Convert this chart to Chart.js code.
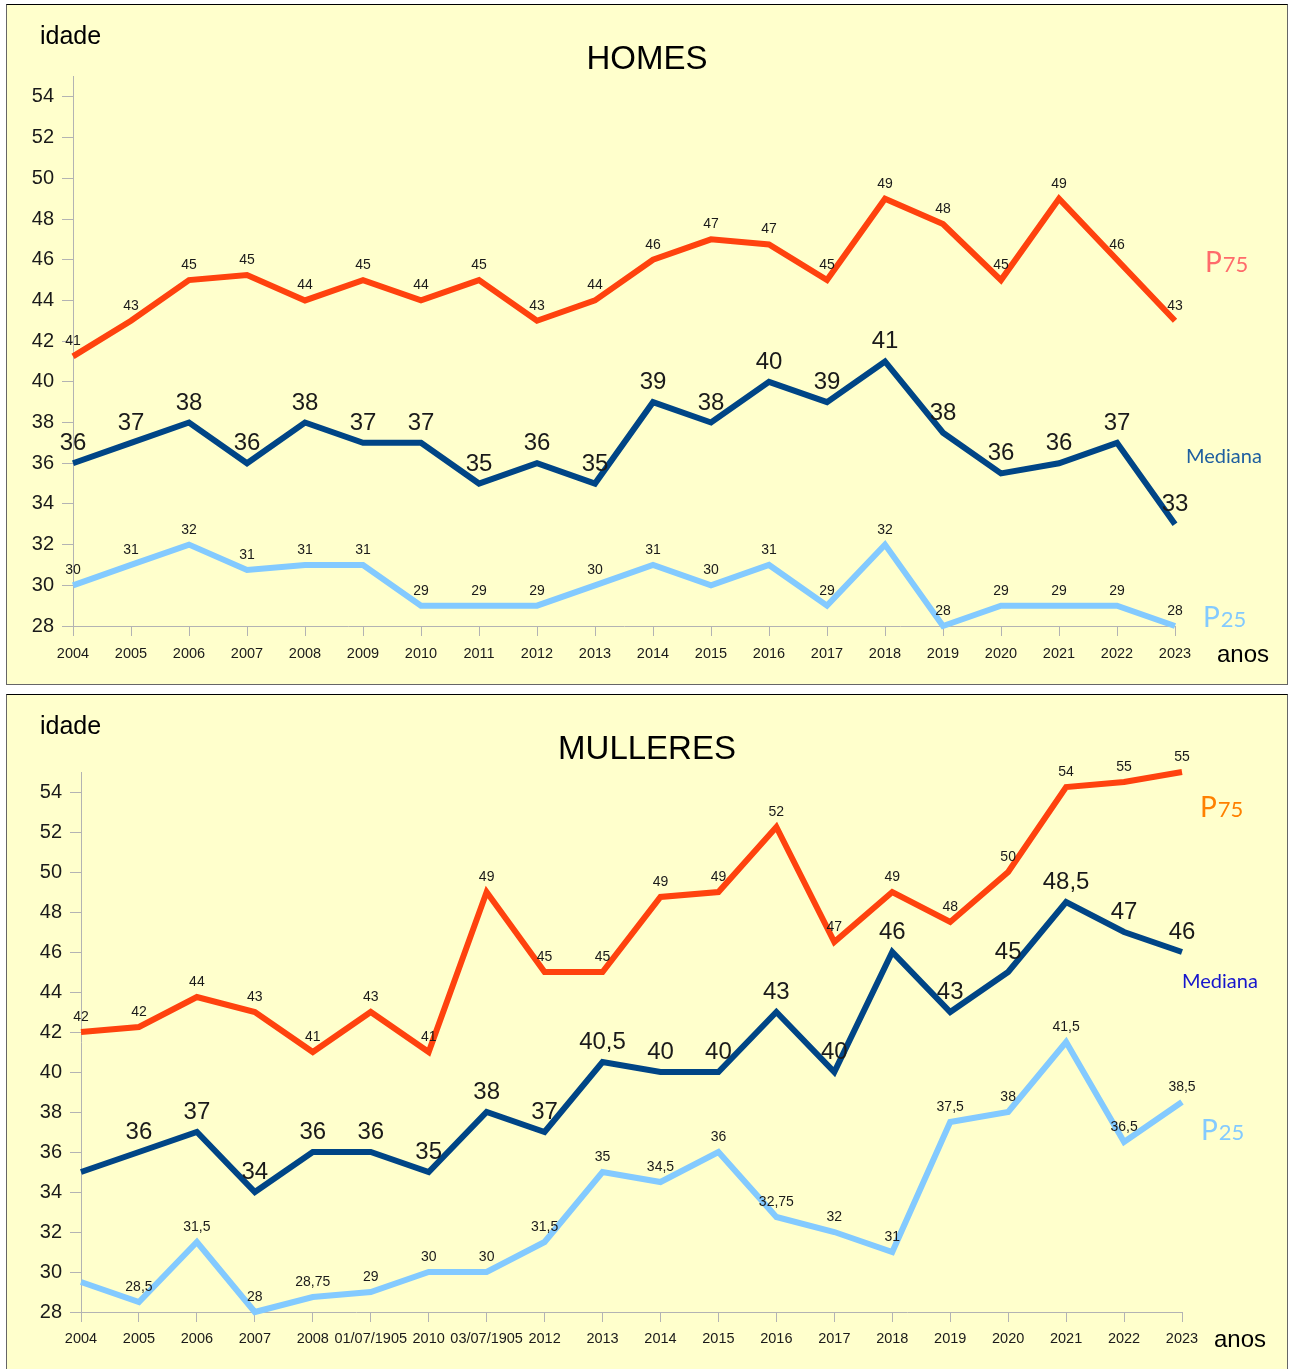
<!DOCTYPE html>
<html>
<head>
<meta charset="utf-8">
<script src="https://cdn.jsdelivr.net/npm/chart.js@4"></script>
<style>
  body { margin: 0; background: #fff; }
  .panel {
    position: absolute;
    left: 6px;
    width: 1282px;
    box-sizing: border-box;
    background: #ffffcc;
    border: 1px solid #666;
    border-top-color: #000;
  }
  #panelTop { top: 4px; height: 681px; }
  #panelBot { top: 694px; height: 676px; }
  canvas { display: block; }
</style>
</head>
<body>
<div class="panel" id="panelTop"><canvas id="homesChart" width="1280" height="679"></canvas></div>
<div class="panel" id="panelBot"><canvas id="mulleresChart" width="1280" height="674"></canvas></div>
<script>
const years = ["2004", "2005", "2006", "2007", "2008", "2009", "2010", "2011", "2012", "2013",
  "2014", "2015", "2016", "2017", "2018", "2019", "2020", "2021", "2022", "2023"];
const yearsMulleres = ["2004", "2005", "2006", "2007", "2008", "01/07/1905", "2010", "03/07/1905", "2012", "2013",
  "2014", "2015", "2016", "2017", "2018", "2019", "2020", "2021", "2022", "2023"];

const homesP75 = [41.25, 43, 45, 45.25, 44, 45, 44, 45, 43, 44, 46, 47, 46.75, 45, 49, 47.75, 45, 49, 46, 43];
const homesMediana = [36, 37, 38, 36, 38, 37, 37, 35, 36, 35, 39, 38, 40, 39, 41, 37.5, 35.5, 36, 37, 33];
const homesP25 = [30, 31, 32, 30.75, 31, 31, 29, 29, 29, 30, 31, 30, 31, 29, 32, 28, 29, 29, 29, 28];

const mulleresP75 = [42, 42.25, 43.75, 43, 41, 43, 41, 49, 45, 45, 48.75, 49, 52.25, 46.5, 49, 47.5, 50, 54.25, 54.5, 55];
const mulleresMediana = [35, 36, 37, 34, 36, 36, 35, 38, 37, 40.5, 40, 40, 43, 40, 46, 43, 45, 48.5, 47, 46];
const mulleresP25 = [29.5, 28.5, 31.5, 28, 28.75, 29, 30, 30, 31.5, 35, 34.5, 36, 32.75, 32, 31, 37.5, 38, 41.5, 36.5, 38.5];

const P75_COLOR = "#ff420e";
const MEDIANA_COLOR = "#004586";
const P25_COLOR = "#83caff";
const AXIS_COLOR = "#b3b3b3";

Chart.defaults.font.family = "'Liberation Sans', Arial, sans-serif";
Chart.defaults.color = "#1a1a1a";

function formatValue(v, rounded) {
  if (rounded) return String(Math.round(v));
  return String(v).replace(".", ",");
}

// draws the value over each point
const valueLabels = {
  id: "valueLabels",
  afterDatasetsDraw(chart) {
    const ctx = chart.ctx;
    ctx.save();
    ctx.textAlign = "center";
    ctx.textBaseline = "alphabetic";
    ctx.fillStyle = "#1a1a1a";
    chart.data.datasets.forEach((ds, i) => {
      const meta = chart.getDatasetMeta(i);
      ctx.font = ds.labelSize + "px 'Liberation Sans', Arial, sans-serif";
      meta.data.forEach((pt, j) => {
        if (ds.hideLabelAt && ds.hideLabelAt.includes(j)) return;
        ctx.fillText(formatValue(ds.data[j], ds.rounded), pt.x, pt.y - ds.labelOffset);
      });
    });
    ctx.restore();
  },
};

// title, axis names and series names
function overlay(texts) {
  return {
    id: "overlay",
    afterDraw(chart) {
      const ctx = chart.ctx;
      ctx.save();
      ctx.textBaseline = "alphabetic";
      texts.forEach((t) => {
        ctx.fillStyle = t.color || "#000";
        ctx.textAlign = t.align || "left";
        if (t.sub) {
          ctx.font = t.size + "px Lato, 'Open Sans', sans-serif";
          ctx.textAlign = "left";
          ctx.fillText("P", t.x, t.y);
          const w = ctx.measureText("P").width;
          ctx.font = Math.round(t.size * 0.8) + "px Lato, 'Open Sans', sans-serif";
          ctx.fillText(t.sub, t.x + w + 1, t.y);
        } else {
          ctx.font = t.size + "px " + (t.family || "'Liberation Sans', Arial, sans-serif");
          ctx.fillText(t.text, t.x, t.y);
        }
      });
      ctx.restore();
    },
  };
}

function lineSet(label, data, color, big, rounded) {
  return {
    label: label,
    data: data,
    borderColor: color,
    backgroundColor: color,
    borderWidth: 6,
    pointRadius: 0,
    tension: 0,
    clip: false,
    labelSize: big ? 24 : 14,
    labelOffset: big ? 13 : 11,
    rounded: rounded,
  };
}

function makeOptions(yWidth, xHeight, padding, xPad) {
  return {
    responsive: false,
    devicePixelRatio: 1,
    animation: false,
    layout: { padding: padding },
    plugins: {
      legend: { display: false },
      title: { display: false },
      tooltip: { enabled: false },
    },
    scales: {
      x: {
        grid: { display: true, drawOnChartArea: false, drawTicks: true, tickLength: 10, color: AXIS_COLOR },
        border: { display: true, color: AXIS_COLOR, width: 1 },
        ticks: { autoSkip: false, maxRotation: 0, minRotation: 0, padding: xPad, font: { size: 14.5 }, color: "#1a1a1a" },
        afterFit: (s) => { s.height = xHeight; },
      },
      y: {
        min: 28,
        max: 55,
        grid: { display: true, drawOnChartArea: false, drawTicks: true, tickLength: 11, color: AXIS_COLOR },
        border: { display: true, color: AXIS_COLOR, width: 1 },
        ticks: { stepSize: 2, includeBounds: false, padding: 8, font: { size: 20 }, color: "#1a1a1a" },
        afterFit: (s) => { s.width = yWidth; },
      },
    },
  };
}

const homesChart = new Chart(document.getElementById("homesChart"), {
  type: "line",
  data: {
    labels: years,
    datasets: [
      lineSet("P75", homesP75, P75_COLOR, false, true),
      lineSet("Mediana", homesMediana, MEDIANA_COLOR, true, true),
      lineSet("P25", homesP25, P25_COLOR, false, true),
    ],
  },
  options: makeOptions(66, 58, { left: 0, right: 112, top: 71.6, bottom: 0 }, 9),
  plugins: [
    valueLabels,
    overlay([
      { text: "idade", x: 33, y: 39, size: 25 },
      { text: "HOMES", x: 640, y: 64, size: 33, align: "center" },
      { text: "anos", x: 1210, y: 657, size: 24 },
      { sub: "75", x: 1198, y: 267, size: 28, color: "#ff6b6b" },
      { text: "Mediana", x: 1179, y: 458, size: 20, color: "#1f5fa0", family: "Lato, 'Open Sans', sans-serif" },
      { sub: "25", x: 1196, y: 622, size: 28, color: P25_COLOR },
    ]),
  ],
});

const mullMedianaSet = lineSet("Mediana", mulleresMediana, MEDIANA_COLOR, true, false);
mullMedianaSet.hideLabelAt = [0];
const mullP25Set = lineSet("P25", mulleresP25, P25_COLOR, false, false);
mullP25Set.hideLabelAt = [0];

const mulleresChart = new Chart(document.getElementById("mulleresChart"), {
  type: "line",
  data: {
    labels: yearsMulleres,
    datasets: [
      lineSet("P75", mulleresP75, P75_COLOR, false, true),
      mullMedianaSet,
      mullP25Set,
    ],
  },
  options: makeOptions(74, 57, { left: 0, right: 105, top: 77, bottom: 0 }, 8),
  plugins: [
    valueLabels,
    overlay([
      { text: "idade", x: 33, y: 39, size: 25 },
      { text: "MULLERES", x: 640, y: 64, size: 33, align: "center" },
      { text: "anos", x: 1207, y: 652, size: 24 },
      { sub: "75", x: 1193, y: 122, size: 28, color: "#ff8000" },
      { text: "Mediana", x: 1175, y: 293, size: 20, color: "#1616cc", family: "Lato, 'Open Sans', sans-serif" },
      { sub: "25", x: 1194, y: 445, size: 28, color: P25_COLOR },
    ]),
  ],
});
</script>
</body>
</html>
